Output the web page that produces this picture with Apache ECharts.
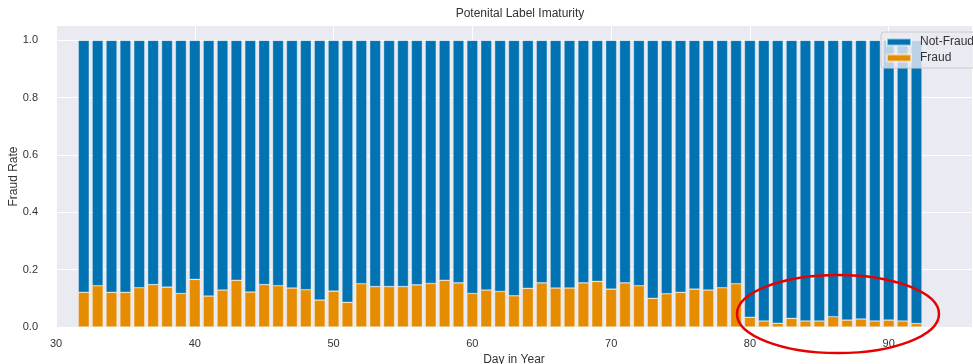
<!DOCTYPE html>
<html>
<head>
<meta charset="utf-8">
<script src="https://cdn.jsdelivr.net/npm/echarts@6/dist/echarts.min.js"></script>
<style>html,body{margin:0;padding:0;background:#fff}#c{width:973px;height:364px}</style>
</head>
<body>
<div id="c"></div>
<script>
var xCategories = ['30','31','32','33','34','35','36','37','38','39','40','41','42','43','44','45','46','47','48','49','50','51','52','53','54','55','56','57','58','59','60','61','62','63','64','65','66','67','68','69','70','71','72','73','74','75','76','77','78','79','80','81','82','83','84','85','86','87','88','89','90','91','92','93','94','95','96'];
var days = [32,33,34,35,36,37,38,39,40,41,42,43,44,45,46,47,48,49,50,51,52,53,54,55,56,57,58,59,60,61,62,63,64,65,66,67,68,69,70,71,72,73,74,75,76,77,78,79,80,81,82,83,84,85,86,87,88,89,90,91,92];
var fraudRate = [0.121,0.144,0.121,0.121,0.137,0.148,0.139,0.117,0.166,0.108,0.129,0.163,0.122,0.148,0.144,0.136,0.130,0.094,0.125,0.086,0.151,0.141,0.141,0.141,0.147,0.152,0.163,0.154,0.117,0.129,0.124,0.109,0.135,0.154,0.136,0.136,0.154,0.159,0.132,0.154,0.144,0.100,0.116,0.121,0.132,0.129,0.137,0.151,0.034,0.021,0.013,0.030,0.021,0.021,0.036,0.024,0.028,0.021,0.024,0.021,0.012];
var notFraudRate = [0.879,0.856,0.879,0.879,0.863,0.852,0.861,0.883,0.834,0.892,0.871,0.837,0.878,0.852,0.856,0.864,0.870,0.906,0.875,0.914,0.849,0.859,0.859,0.859,0.853,0.848,0.837,0.846,0.883,0.871,0.876,0.891,0.865,0.846,0.864,0.864,0.846,0.841,0.868,0.846,0.856,0.900,0.884,0.879,0.868,0.871,0.863,0.849,0.966,0.979,0.987,0.970,0.979,0.979,0.964,0.976,0.972,0.979,0.976,0.979,0.988];
var yTicks = [0, 0.2, 0.4, 0.6, 0.8, 1.0];
var xTicks = ['30', '40', '50', '60', '70', '80', '90'];

var txt = '#333333';
var font = 'Liberation Sans, Arial, sans-serif';
function isXTick(idx) { return xTicks.indexOf(xCategories[idx]) >= 0; }

var chart = echarts.init(document.getElementById('c'), null, {renderer: 'canvas'});
chart.setOption({
  animation: false,
  backgroundColor: '#ffffff',
  textStyle: {fontFamily: font},
  title: {
    text: 'Potenital Label Imaturity',
    left: 520, top: 8, textAlign: 'center', padding: 0,
    textStyle: {fontSize: 12, fontWeight: 'normal', color: txt, fontFamily: font}
  },
  grid: {
    left: 56, top: 26, width: 916, height: 301,
    outerBoundsMode: 'none', containLabel: false,
    show: true, backgroundColor: '#EAEAF2', borderWidth: 0
  },
  legend: {
    data: ['Not-Fraud', 'Fraud'],
    orient: 'vertical',
    left: 881, top: 32,
    itemWidth: 24, itemHeight: 7, itemGap: 4,
    icon: 'rect',
    padding: [4, 60, 4, 5],
    backgroundColor: 'rgba(234,234,242,0.8)',
    borderColor: '#cccccc', borderWidth: 1, borderRadius: 3,
    textStyle: {fontSize: 12, color: txt, lineHeight: 12, fontFamily: font, padding: [0, 0, 0, 4]}
  },
  xAxis: {
    type: 'category', data: xCategories, boundaryGap: false,
    name: 'Day in Year', nameLocation: 'middle', nameGap: 27, nameMoveOverlap: false,
    nameTextStyle: {fontSize: 12, color: txt},
    axisLine: {show: false}, axisTick: {show: false},
    axisLabel: {
      fontSize: 11, color: txt, margin: 11,
      interval: function (idx) { return isXTick(idx); }
    },
    splitLine: {show: true, interval: function (idx) { return isXTick(idx); }, lineStyle: {color: '#ffffff', width: 1}}
  },
  yAxis: {
    type: 'value', min: 0, max: 1.05, interval: 0.2,
    name: 'Fraud Rate', nameLocation: 'middle', nameGap: 36, nameMoveOverlap: false,
    nameTextStyle: {fontSize: 12, color: txt},
    axisLine: {show: false}, axisTick: {show: false},
    axisLabel: {
      fontSize: 11, color: txt, margin: 18, showMaxLabel: false,
      formatter: function (v) {
        for (var i = 0; i < yTicks.length; i++) if (Math.abs(yTicks[i] - v) < 1e-6) return yTicks[i].toFixed(1);
        return '';
      }
    },
    splitLine: {show: true, showMaxLine: false, lineStyle: {color: '#ffffff', width: 1}}
  },
  series: [
    {
      name: 'Fraud', type: 'bar', stack: 'all', barWidth: 11,
      data: days.map(function (d, i) { return [String(d), fraudRate[i]]; }),
      itemStyle: {color: '#E68C00', borderColor: 'rgba(255,255,255,0.55)', borderWidth: 0.6}
    },
    {
      name: 'Not-Fraud', type: 'bar', stack: 'all', barWidth: 11,
      data: days.map(function (d, i) { return [String(d), notFraudRate[i]]; }),
      itemStyle: {color: '#0173B2', borderColor: 'rgba(255,255,255,0.55)', borderWidth: 0.6}
    }
  ],
  graphic: [{
    type: 'ellipse', z: 100,
    shape: {cx: 838, cy: 314, rx: 101, ry: 39},
    style: {fill: 'none', stroke: '#e60000', lineWidth: 2.5}
  }]
});
</script>
</body>
</html>
